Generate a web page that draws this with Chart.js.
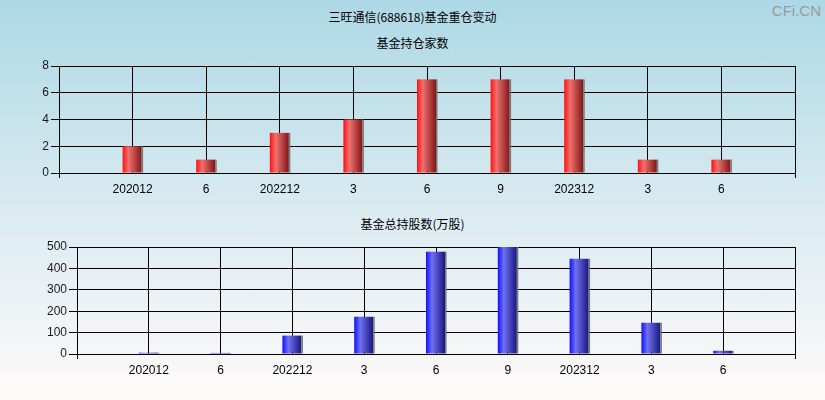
<!DOCTYPE html>
<html>
<head>
<meta charset="utf-8">
<script src="https://cdn.jsdelivr.net/npm/chart.js@4/dist/chart.umd.min.js"></script>
<style>
    html, body { margin: 0; padding: 0; }
    body {
        width: 825px; height: 400px; position: relative; overflow: hidden;
        background: linear-gradient(to bottom, #add8e6 0%, #d8eaf0 50%, #fffafa 100%);
        font-family: "Noto Sans CJK SC", sans-serif;
    }
    .txt { position: absolute; left: 0; width: 825px; text-align: center; font-size: 12px; color: #000; line-height: 14px; }
    .mark { position: absolute; right: 4px; top: 2px; font: 15px "Liberation Sans", Arial, sans-serif; color: #9a9a9a; }
    .box { position: absolute; left: 0; width: 825px; }
</style>
</head>
<body>
<div class="txt" style="top:10px">三旺通信(688618)基金重仓变动</div>
<div class="mark">CFi.CN</div>
<div class="txt" style="top:36px">基金持仓家数</div>
<div class="txt" style="top:217px">基金总持股数(万股)</div>
<div class="box" style="top:0;height:205px"><canvas id="grafico-jia"></canvas></div>
<div class="box" style="top:205px;height:195px"><canvas id="grafico-gu"></canvas></div>
<script>
// dados
const periodos = ['202012', '6', '202212', '3', '6', '9', '202312', '3', '6'];
const jiaShu = [2, 1, 3, 4, 7, 7, 7, 1, 1];          // 基金持仓家数
const guShu = [6, 5, 86, 174, 478, 500, 445, 146, 15]; // 基金总持股数(万股)

const labels = ['', ...periodos, ''];
const pad = arr => [null, ...arr, null];

// barra com degradê desenhada sobre a posição calculada pelo Chart.js
const gradBar = {
    id: 'gradBar',
    afterDatasetDraw(chart, args) {
        const ctx = chart.ctx;
        const stops = chart.options.plugins.gradBar.stops;
        args.meta.data.forEach(el => {
            const { x, y, base, width } = el.getProps(['x', 'y', 'base', 'width'], true);
            if (y == null || isNaN(y)) return;
            const x0 = x - width / 2;
            const g = ctx.createLinearGradient(x0, 0, x0 + width, 0);
            g.addColorStop(0, stops[0]);
            g.addColorStop(0.3, stops[1]);
            g.addColorStop(1, stops[2]);
            ctx.save();
            ctx.fillStyle = g;
            ctx.fillRect(x0, y, width - 1, base - y);
            ctx.fillStyle = '#777';
            ctx.fillRect(x0 + width - 1, y, 1.5, base - y);
            ctx.restore();
        });
    }
};

function makeChart(id, data, max, step, yWidth, padding, stops) {
    return new Chart(document.getElementById(id), {
        type: 'bar',
        data: {
            labels: labels,
            datasets: [{
                data: pad(data),
                backgroundColor: 'rgba(0,0,0,0)',
                borderWidth: 0,
                barThickness: 20
            }]
        },
        options: {
            responsive: true,
            maintainAspectRatio: false,
            animation: false,
            layout: { padding: padding },
            plugins: {
                legend: { display: false },
                tooltip: { enabled: false },
                gradBar: { stops: stops }
            },
            scales: {
                x: {
                    offset: false,
                    afterFit: s => { s.height = 28; },
                    grid: {
                        color: '#000',
                        lineWidth: 1,
                        offset: false,
                        tickLength: 5,
                        tickColor: c => (c.index === 0 || c.index === labels.length - 1) ? '#000' : 'rgba(0,0,0,0)'
                    },
                    border: { color: '#000' },
                    ticks: {
                        color: '#000',
                        font: { family: '"Liberation Sans", Arial, sans-serif', size: 12 },
                        maxRotation: 0,
                        autoSkip: false,
                        padding: 4
                    }
                },
                y: {
                    min: 0,
                    max: max,
                    afterFit: s => { s.width = yWidth; },
                    grid: { color: '#000', lineWidth: 1, tickLength: 8 },
                    border: { color: '#000' },
                    ticks: {
                        stepSize: step,
                        color: '#1a1a1a',
                        font: { family: '"Liberation Sans", Arial, sans-serif', size: 12 },
                        padding: 2
                    }
                }
            }
        },
        plugins: [gradBar]
    });
}

makeChart('grafico-jia', jiaShu, 8, 2, 59, { top: 66, bottom: 4, left: 0, right: 30 },
    ['#ff1010', '#f07070', '#781010']);
makeChart('grafico-gu', guShu, 500, 100, 77, { top: 42, bottom: 18, left: 0, right: 30 },
    ['#1010ff', '#7070f0', '#101078']);
</script>
</body>
</html>
